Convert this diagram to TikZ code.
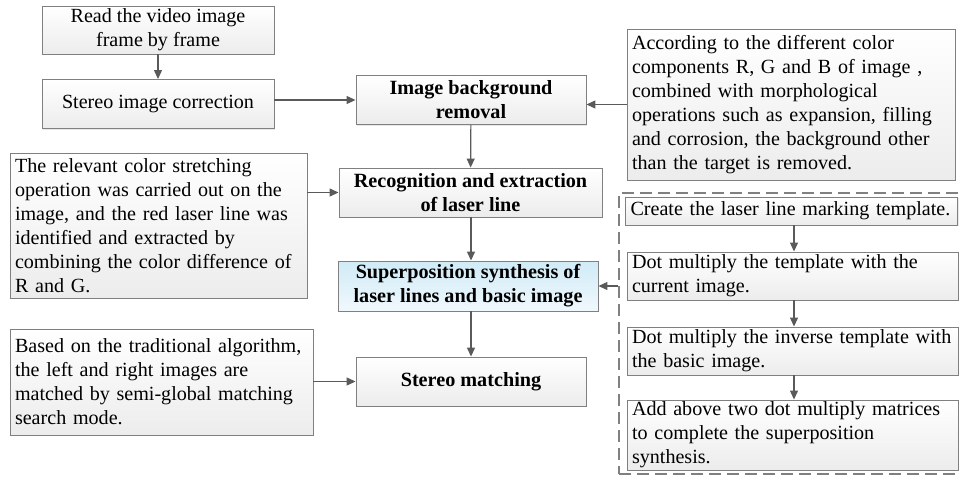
\documentclass[tikz,border=0pt]{standalone}
\usepackage{fontspec}
\setmainfont{Liberation Serif}
\usetikzlibrary{arrows.meta,shadows}

\definecolor{edgegray}{HTML}{808080}
\definecolor{arrgray}{HTML}{5A5A5A}
\definecolor{boxlow}{HTML}{ECECEC}
\definecolor{bluetop}{HTML}{D0EBF7}
\definecolor{bluelow}{HTML}{F0F8FC}

\tikzset{
  box/.style={draw=edgegray, line width=0.9pt, top color=white, bottom color=boxlow,
    drop shadow={shadow xshift=1pt, shadow yshift=-1pt, fill=black!30, opacity=0.3},
    inner xsep=5pt, inner ysep=1pt, font=\fontsize{20.1}{24}\selectfont,
    execute at begin node={\hyphenpenalty=10000\exhyphenpenalty=10000}},
  cbox/.style={box, align=center},
  bbox/.style={box, align=center, font=\fontsize{20.2}{24}\selectfont\bfseries},
  lbox/.style={box, align=left, text width=#1-10pt, minimum width=#1},
  arr/.style={draw=arrgray, line width=1.2pt, -{Triangle[length=9pt,width=8pt]}},
  frame/.style={draw=edgegray, line width=1.1pt, dash pattern=on 12pt off 6pt}
}

\begin{document}
\begin{tikzpicture}[x=1pt,y=-1pt]
\useasboundingbox (0,0) rectangle (960,477);

% left column
\node[cbox, minimum width=232pt, minimum height=48pt] (read) at (158,30)
  {Read the video image\\frame by frame};
\node[cbox, minimum width=232pt, minimum height=49pt] (rect) at (158,104)
  {Stereo image correction};
\node[lbox=297pt, minimum height=145pt] (stretch) at (158.5,225.5)
  {The relevant color stretching\\operation was carried out on the\\image, and the red laser line was\\identified and extracted by\\combining the color difference of\\R and G.};
\node[lbox=303pt, minimum height=106pt] (sgm) at (161.5,382)
  {Based on the traditional algorithm,\\the left and right images are\\matched by semi-global matching\\search mode.};

% main column
\node[bbox, minimum width=230pt, minimum height=49pt] (bg) at (471,100)
  {Image background\\removal};
\node[bbox, minimum width=263pt, minimum height=49pt] (rec) at (470.5,192.5)
  {Recognition and extraction\\of laser line};
\node[bbox, minimum width=260pt, minimum height=50pt, top color=bluetop, bottom color=bluelow] (sup) at (468,286)
  {Superposition synthesis of\\laser lines and basic image};
\node[bbox, minimum width=230pt, minimum height=49pt] (match) at (471,381.5)
  {Stereo matching};

% right column
\node[lbox=328pt, minimum height=151pt] (rgb) at (791,104.5)
  {According to the different color\\components R, G and B of image ,\\combined with morphological\\operations such as expansion, filling\\and corrosion, the background other\\than the target is removed.};

\node[frame, minimum width=344pt, minimum height=281pt] (grp) at (791,333.5) {};
\node[lbox=332pt, minimum height=28pt] (tpl) at (791.5,211)
  {Create the laser line marking template.};
\node[lbox=331pt, minimum height=48pt] (mul1) at (792.5,276)
  {Dot multiply the template with the\\current image.};
\node[lbox=331pt, minimum height=48pt] (mul2) at (792.5,351)
  {Dot multiply the inverse template with\\the basic image.};
\node[lbox=331pt, minimum height=70pt] (add) at (792.5,435)
  {Add above two dot multiply matrices\\to complete the superposition\\synthesis.};

% connectors
\draw[arr] (read) -- (rect);
\draw[arr] (rect.east |- bg.west) -- (bg.west);
\draw[arr] (rgb.west) -- (rgb.west -| bg.east);
\draw[arr] (bg) -- (rec);
\draw[arr] (stretch.east |- rec.west) -- (rec.west);
\draw[arr] (rec.south -| bg.south) -- (bg.south |- sup.north);
\draw[arr] (bg.south |- sup.south) -- (match.north);
\draw[arr] (sgm.east |- match.west) -- (match.west);
\draw[arr] (grp.west |- sup.east) -- (sup.east);
\draw[arr] ([xshift=2.5pt]tpl.south) -- ([xshift=2.5pt]tpl.south |- mul1.north);
\draw[arr] ([xshift=1.5pt]mul1.south) -- ([xshift=1.5pt]mul1.south |- mul2.north);
\draw[arr] ([xshift=1.5pt]mul2.south) -- ([xshift=1.5pt]mul2.south |- add.north);
\end{tikzpicture}
\end{document}
